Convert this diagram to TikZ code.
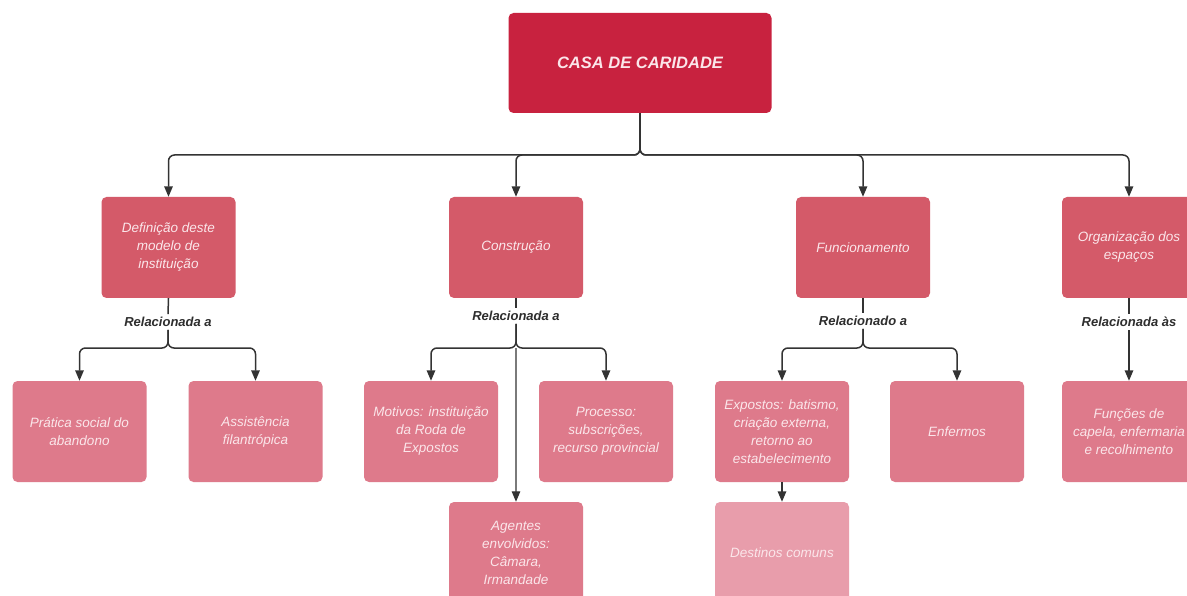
\documentclass[tikz,border=0pt]{standalone}
\usepackage{fontspec}
\setmainfont{Liberation Sans}
\usetikzlibrary{arrows.meta}
\definecolor{cTop}{HTML}{C8223F}
\definecolor{cLtwo}{HTML}{D45A69}
\definecolor{cLthree}{HTML}{DE7A8B}
\definecolor{cLfour}{HTML}{E89DAB}
\definecolor{cTxt}{HTML}{FBE6EA}
\definecolor{cLine}{HTML}{333333}
\definecolor{cGrey}{HTML}{7A7A7A}
\definecolor{cRel}{HTML}{2E2E2E}
\begin{document}
\begin{tikzpicture}[x=1pt,y=-1pt,
  box/.style={rounded corners=5pt, minimum width=134pt, minimum height=101pt, align=center,
    font=\itshape\fontsize{13.5}{18}\selectfont, text=cTxt, inner sep=2pt},
  topbox/.style={box, fill=cTop, minimum width=263pt, minimum height=100pt,
    font=\bfseries\itshape\fontsize{16.5}{19}\selectfont},
  ltwo/.style={box, fill=cLtwo},
  lthree/.style={box, fill=cLthree},
  lfour/.style={box, fill=cLfour},
  rel/.style={font=\bfseries\itshape\fontsize{13}{14}\selectfont, text=cRel, inner sep=3pt},
  link/.style={draw=cLine, line width=1.5pt, rounded corners=6pt},
  conn/.style={link, -{Triangle[width=8.5pt,length=10.5pt,color=cLine]}}]
\useasboundingbox (0,0) rectangle (1187,596);
\fill[white] (0,0) rectangle (1187,596);

% nodes
\node[topbox] (top) at (640,63) {CASA DE CARIDADE};
\node[ltwo] (def) at (168.5,247.5) {Definição deste\\modelo de\\instituição};
\node[ltwo] (con) at (516,247.5) {Construção};
\node[ltwo] (fun) at (863,247.5) {Funcionamento};
\node[ltwo] (org) at (1129,247.5) {Organização dos\\espaços};

\node[rel] (r1) at (168,322) {Relacionada a};
\node[rel] (r2) at (516,316) {Relacionada a};
\node[rel] (r3) at (863,321) {Relacionado a};
\node[rel] (r4) at (1129,322) {Relacionada às};

\node[lthree] (pra) at (79.5,431.5) {Prática social do\\abandono};
\node[lthree] (ass) at (255.5,431.5) {Assistência\\filantrópica};
\node[lthree] (mot) at (431,431.5) {Motivos: instituição\\da Roda de\\Expostos};
\node[lthree] (pro) at (606,431.5) {Processo:\\subscrições,\\recurso provincial};
\node[lthree] (exp) at (782,431.5) {Expostos: batismo,\\criação externa,\\retorno ao\\estabelecimento};
\node[lthree] (enf) at (957,431.5) {Enfermos};
\node[lthree] (fcs) at (1129,431.5) {Funções de\\capela, enfermaria\\e recolhimento};

\node[lthree] (age) at (516,552.5) {Agentes\\envolvidos:\\Câmara,\\Irmandade};
\node[lfour] (des) at (782,552.5) {Destinos comuns};

% connectors from the top
\coordinate (bt) at (640,155);
\draw[conn] (top.south) -- (bt) -| (def.north);
\draw[conn] (top.south) -- (bt) -| (con.north);
\draw[conn] (top.south) -- (bt) -| (fun.north);
\draw[conn] (top.south) -- (bt) -| (org.north);

% level 2 to labels
\draw[link] (def.south) -- (r1.north);
\draw[link] (con.south) -- (r2.north);
\draw[link] (fun.south) -- (r3.north);
\draw[link] (org.south) -- (r4.north);

% labels to level 3
\coordinate (b1) at (168,348);
\coordinate (b2) at (516,348);
\coordinate (b3) at (863,348);
\draw[conn] (r1.south) -- (b1) -| (pra.north);
\draw[conn] (r1.south) -- (b1) -| (ass.north);
\draw[conn] (r2.south) -- (b2) -| (mot.north);
\draw[conn] (r2.south) -- (b2) -| (pro.north);
\draw[conn, draw=cGrey, line width=1.2pt] (b2) -- (age.north);
\draw[conn] (r3.south) -- (b3) -| (exp.north);
\draw[conn] (r3.south) -- (b3) -| (enf.north);
\draw[conn] (r4.south) -- (fcs.north);
\draw[conn] (exp.south) -- (des.north);
\end{tikzpicture}
\end{document}
